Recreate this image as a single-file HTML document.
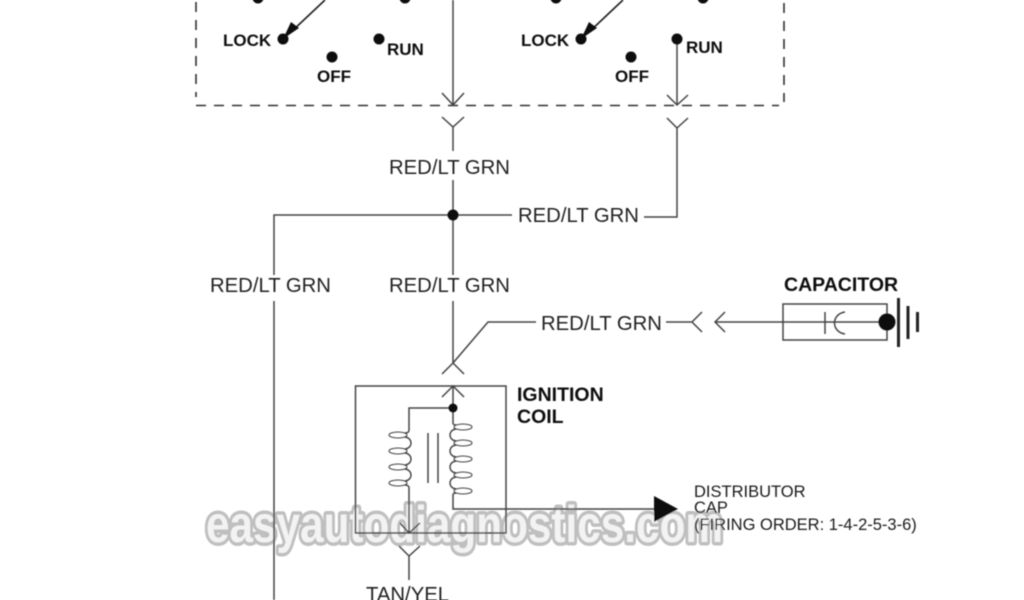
<!DOCTYPE html>
<html>
<head>
<meta charset="utf-8">
<style>
html,body{margin:0;padding:0;background:#fff;width:1024px;height:600px;overflow:hidden}
svg{display:block}
text{font-family:"Liberation Sans",sans-serif;fill:#1c1c1c}
.b{font-weight:bold;fill:#111}
.w{font-size:20.300px;fill:#222}
</style>
</head>
<body>
<svg width="1024" height="600" viewBox="0 0 1024 600" xmlns="http://www.w3.org/2000/svg">
<defs><filter id="s" x="-5%" y="-5%" width="110%" height="110%"><feGaussianBlur stdDeviation="0.45"/></filter></defs>
<g filter="url(#s)">
<!-- watermark -->
<text x="206" y="542" textLength="517" lengthAdjust="spacingAndGlyphs" style="font-size:52px;font-weight:bold;fill:#f3f3f3;stroke:#bfbfbf;stroke-width:7px;stroke-linejoin:round;paint-order:stroke">easyautodiagnostics.com</text>
<!-- dashed box -->
<path d="M196 2V97M196 105.500H779M784 3V102" fill="none" stroke="#333" stroke-width="1.600" stroke-dasharray="10 8"/>
<g fill="none" stroke="#444" stroke-width="1.500">
<!-- switch wires -->
<path d="M453 0V105M442 93L453 105L464 93M442 117L453 127L464 117M453 127V151M453 180V275M453 301V363"/>
<path d="M677 39V105M667 95L677 105L688 95M667 118L677 128L688 118M677 128V217H644"/>
<path d="M512 215H274V275M274 301V600"/>
<!-- capacitor feed -->
<path d="M442 374L453 363L464 374M453 363L488 322H536M666 322H692M702 312L692 322L702 332M725 312L715 322L725 332M715 322H887"/>
<rect x="783" y="304" width="104" height="36"/>
<path d="M825 312V334M845 312C831 314 831 332 845 334"/>
<!-- ignition coil -->
<rect x="355.500" y="386" width="150.500" height="147"/>
<path d="M442 397L453 386L464 397M453 386V424M453 494V509H655M453 408H409V431M409 487V533M428 433V483M438 433V483"/>
<path d="M400 523L409 533L420 523M399 546L409 556L420 546M409 556V580"/>
<g stroke-width="1.100">
<ellipse cx="398" cy="435" rx="9" ry="3"/><ellipse cx="398" cy="451" rx="9" ry="3"/><ellipse cx="398" cy="467" rx="9" ry="3"/><ellipse cx="398" cy="483" rx="9" ry="3"/>
<ellipse cx="463" cy="427" rx="9" ry="3"/><ellipse cx="463" cy="443" rx="9" ry="3"/><ellipse cx="463" cy="459" rx="9" ry="3"/><ellipse cx="463" cy="475" rx="9" ry="3"/><ellipse cx="463" cy="491" rx="9" ry="3"/>
</g>
<g stroke-width="1.400">
<path d="M409 431Q408 433 405 433M405 437C413 438 413 448 405 449M405 453C413 454 413 464 405 465M405 469C413 470 413 480 405 481M405 485Q408 485 409 487"/>
<path d="M453 424Q454 425 456 425M456 429C448 430 448 440 456 441M456 445C448 446 448 456 456 457M456 461C448 462 448 472 456 473M456 477C448 478 448 488 456 489M456 493Q454 493 453 494"/>
</g>
</g>
<!-- ground -->
<path d="M898.500 298V347" stroke="#222" stroke-width="3"/>
<path d="M908 306V339M917.500 312V332" stroke="#222" stroke-width="3"/>
<!-- switch arms -->
<path d="M325 0L290 33M623 0L588 33" stroke="#222" stroke-width="1.600"/>
<path d="M283 39L299 28L291 22Z M581 39L597 28L589 22Z" fill="#111"/>
<!-- dots -->
<g fill="#0a0a0a">
<circle cx="258" cy="-2" r="5.500"/><circle cx="405" cy="-2" r="5.500"/>
<circle cx="283" cy="39" r="5.500"/><circle cx="332" cy="57" r="5.500"/><circle cx="379" cy="39" r="5.500"/>
<circle cx="556" cy="-2" r="5.500"/><circle cx="703" cy="-2" r="5.500"/>
<circle cx="581" cy="39" r="5.500"/><circle cx="631" cy="57" r="5.500"/><circle cx="677" cy="39" r="5.500"/>
<circle cx="453" cy="215" r="5.500"/><circle cx="453" cy="408" r="4.500"/><circle cx="887" cy="322" r="8.500"/>
</g>
<path d="M654 496L678 509L654 522Z" fill="#0a0a0a"/>
<!-- switch labels -->
<g style="font-size:17px;font-weight:bold">
<text class="b" x="223" y="46">LOCK</text><text class="b" x="387" y="55">RUN</text><text class="b" x="317" y="82">OFF</text>
<text class="b" x="521" y="46">LOCK</text><text class="b" x="686" y="53">RUN</text><text class="b" x="615" y="82">OFF</text>
</g>
<text class="b" x="784" y="291" style="font-size:19.500px">CAPACITOR</text>
<text class="b" x="517" y="401" style="font-size:19.500px">IGNITION</text>
<text class="b" x="517" y="423" style="font-size:19.500px">COIL</text>
<!-- wire labels -->
<text class="w" x="389" y="174">RED/LT GRN</text>
<text class="w" x="518" y="222">RED/LT GRN</text>
<text class="w" x="210" y="292">RED/LT GRN</text>
<text class="w" x="389" y="292">RED/LT GRN</text>
<text class="w" x="541" y="330">RED/LT GRN</text>
<text class="w" x="366" y="601">TAN/YEL</text>
<text x="694" y="497" style="font-size:16.500px">DISTRIBUTOR</text>
<text x="694" y="513" style="font-size:16.500px">CAP</text>
<text x="694" y="530" style="font-size:16.500px">(FIRING ORDER: 1-4-2-5-3-6)</text>
</g>
</svg>
</body>
</html>
